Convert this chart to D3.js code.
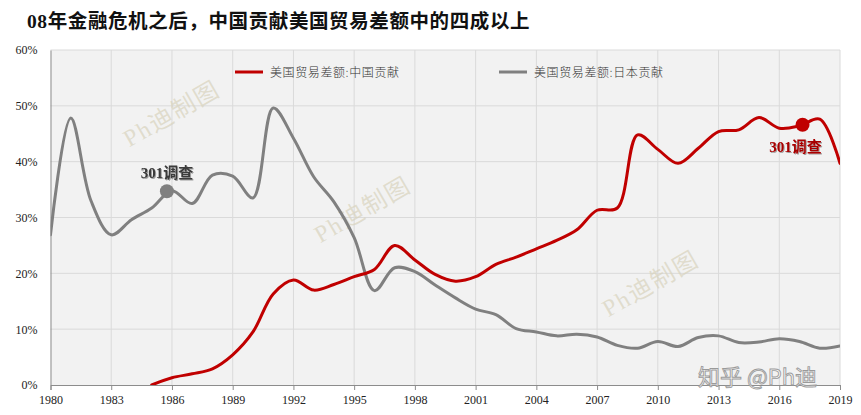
<!DOCTYPE html>
<html>
<head>
<meta charset="utf-8">
<script src="https://cdn.jsdelivr.net/npm/d3@7"></script>
<style>
  html, body { margin: 0; padding: 0; background: #fff; }
  svg { display: block; }
</style>
</head>
<body>
<svg id="chart" width="861" height="415"></svg>
<script>
// ---------- data ----------
const years = [1980,1981,1982,1983,1984,1985,1986,1987,1988,1989,
               1990,1991,1992,1993,1994,1995,1996,1997,1998,1999,
               2000,2001,2002,2003,2004,2005,2006,2007,2008,2009,
               2010,2011,2012,2013,2014,2015,2016,2017,2018,2019];
// 美国贸易差额:中国贡献 (%)
const chinaShare = [null,null,null,null,null,0,1.3,2.0,2.9,5.4,
                    9.5,16.3,18.8,17.0,18.0,19.4,20.7,25.0,22.4,19.8,
                    18.6,19.4,21.6,22.9,24.4,25.9,27.8,31.3,31.7,44.8,
                    42.2,39.7,42.4,45.4,45.7,47.9,46.0,46.4,47.6,39.7];
// 美国贸易差额:日本贡献 (%)
const japanShare = [26.9,47.8,33.0,26.9,29.6,31.7,34.8,32.5,37.6,37.4,
                    33.5,49.6,44.2,37.3,32.8,26.4,16.9,21.0,20.3,17.9,
                    15.6,13.6,12.6,10.1,9.5,8.8,9.1,8.6,7.1,6.6,
                    7.8,6.9,8.5,8.8,7.6,7.7,8.3,7.8,6.6,7.0];
const seriesNames = ["美国贸易差额:中国贡献", "美国贸易差额:日本贡献"];
const xTicks = [1980,1983,1986,1989,1992,1995,1998,2001,2004,2007,2010,2013,2016,2019];
const yTicks = [0,10,20,30,40,50,60];
const annoYears = [1985.75, 2017.15];
const annoValues = [34.7, 46.6];
const annoLabels = ["301调查", "301调查"];
const titleText = "08年金融危机之后，中国贡献美国贸易差额中的四成以上";
const watermarkText = "Ph迪制图";
const siteMark = "知乎 @Ph迪";

// ---------- layout ----------
const svg = d3.select("#chart");
const L = 50.5, R = 840, T = 50, B = 385;
const x = d3.scaleLinear().domain([1980, 2019]).range([L, R]);
const y = d3.scaleLinear().domain([0, 60]).range([B, T]);
const RED = "#c00000", GRAY = "#808080";

const defs = svg.append("defs");
defs.append("clipPath").attr("id", "plotclip")
  .append("rect").attr("x", L).attr("y", T).attr("width", R - L).attr("height", B - T);
const f = defs.append("filter").attr("id", "tshadow").attr("x", "-20%").attr("y", "-40%").attr("width", "140%").attr("height", "180%");
f.append("feDropShadow").attr("dx", 1).attr("dy", 1).attr("stdDeviation", 0.7)
  .attr("flood-color", "#000").attr("flood-opacity", 0.35);

// title
svg.append("text")
  .attr("x", 27).attr("y", 28)
  .attr("font-family", "'Liberation Serif','Noto Sans CJK SC',serif")
  .attr("font-weight", "bold").attr("font-size", 19.5)
  .attr("letter-spacing", 0.6)
  .attr("fill", "#111")
  .text(titleText);

// plot background
svg.append("rect").attr("x", L).attr("y", T).attr("width", R - L).attr("height", B - T)
  .attr("fill", "#f2f2f2");

// grid
svg.append("g").selectAll("line.h").data(yTicks.filter(d => d > 0)).join("line")
  .attr("x1", L).attr("x2", R).attr("y1", d => y(d)).attr("y2", d => y(d))
  .attr("stroke", "#dadada").attr("stroke-width", 1);
svg.append("g").selectAll("line.v").data(xTicks.filter(d => d > 1980)).join("line")
  .attr("x1", d => x(d)).attr("x2", d => x(d)).attr("y1", T).attr("y2", B)
  .attr("stroke", "#dadada").attr("stroke-width", 1);

// watermarks inside plot
const wm = [[173, 116], [364, 212], [652, 286]];
svg.append("g").selectAll("text").data(wm).join("text")
  .attr("transform", d => `translate(${d[0]},${d[1]}) rotate(-30)`)
  .attr("text-anchor", "middle").attr("dominant-baseline", "middle")
  .attr("font-family", "'Liberation Serif','Noto Sans CJK SC',serif")
  .attr("font-size", 24).attr("letter-spacing", 2)
  .attr("fill", "#d8d3bd").attr("fill-opacity", 0.7)
  .text(watermarkText);

// axes
const xAxis = d3.axisBottom(x).tickValues(xTicks).tickFormat(d3.format("d")).tickSize(5);
const gx = svg.append("g").attr("transform", `translate(0,${B})`).call(xAxis);
gx.select(".domain").attr("stroke", "#8c8c8c");
gx.selectAll(".tick line").attr("stroke", "#8c8c8c");
gx.selectAll(".tick text").attr("font-family", "'Liberation Serif',serif")
  .attr("font-size", 12).attr("fill", "#222").attr("dy", "0.95em");

const yAxis = d3.axisLeft(y).tickValues(yTicks).tickFormat(d => d + "%").tickSize(0).tickPadding(13);
const gy = svg.append("g").attr("transform", `translate(${L},0)`).call(yAxis);
gy.select(".domain").attr("stroke", "#8c8c8c");
gy.selectAll(".tick text").attr("font-family", "'Liberation Serif',serif")
  .attr("font-size", 12).attr("fill", "#222");

// lines
const lineGen = d3.line()
  .defined(d => d[1] != null)
  .x(d => x(d[0])).y(d => y(d[1]))
  .curve(d3.curveCatmullRom.alpha(0.5));
const plot = svg.append("g").attr("clip-path", "url(#plotclip)");
plot.append("path").datum(years.map((yr, i) => [yr, japanShare[i]]))
  .attr("d", lineGen).attr("fill", "none").attr("stroke", GRAY)
  .attr("stroke-width", 3).attr("stroke-linejoin", "round").attr("stroke-linecap", "round");
plot.append("path").datum(years.map((yr, i) => [yr, chinaShare[i]]))
  .attr("d", lineGen).attr("fill", "none").attr("stroke", RED)
  .attr("stroke-width", 3).attr("stroke-linejoin", "round").attr("stroke-linecap", "round");

// annotations
const annoColors = [GRAY, RED];
const labelColors = ["#3a3a3a", "#a80000"];
const labelDx = [0, -7];
const labelDy = [-13, 27];
annoYears.forEach((yr, i) => {
  svg.append("circle").attr("cx", x(yr)).attr("cy", y(annoValues[i])).attr("r", 7)
    .attr("fill", annoColors[i]);
  svg.append("text")
    .attr("x", x(yr) + labelDx[i]).attr("y", y(annoValues[i]) + labelDy[i])
    .attr("text-anchor", "middle")
    .attr("font-family", "'Liberation Serif','Noto Sans CJK SC',serif")
    .attr("font-weight", "bold").attr("font-size", 15)
    .attr("fill", labelColors[i]).attr("filter", "url(#tshadow)")
    .text(annoLabels[i]);
});

// legend
const legX = [235, 499];
const legColors = [RED, GRAY];
seriesNames.forEach((name, i) => {
  svg.append("line").attr("x1", legX[i]).attr("x2", legX[i] + 28)
    .attr("y1", 72).attr("y2", 72).attr("stroke", legColors[i]).attr("stroke-width", 3);
  svg.append("text").attr("x", legX[i] + 35).attr("y", 76.5)
    .attr("font-family", "'Noto Sans CJK SC',sans-serif").attr("font-weight", 300)
    .attr("font-size", 12).attr("letter-spacing", 0.6).attr("fill", "#333")
    .text(name);
});

// site watermark
svg.append("text").attr("x", 698).attr("y", 385)
  .attr("font-family", "'Noto Sans CJK SC',sans-serif").attr("font-size", 22)
  .attr("fill", "#ffffff").attr("fill-opacity", 0.9)
  .attr("stroke", "#9a9a9a").attr("stroke-width", 0.9)
  .text(siteMark);
</script>
</body>
</html>
